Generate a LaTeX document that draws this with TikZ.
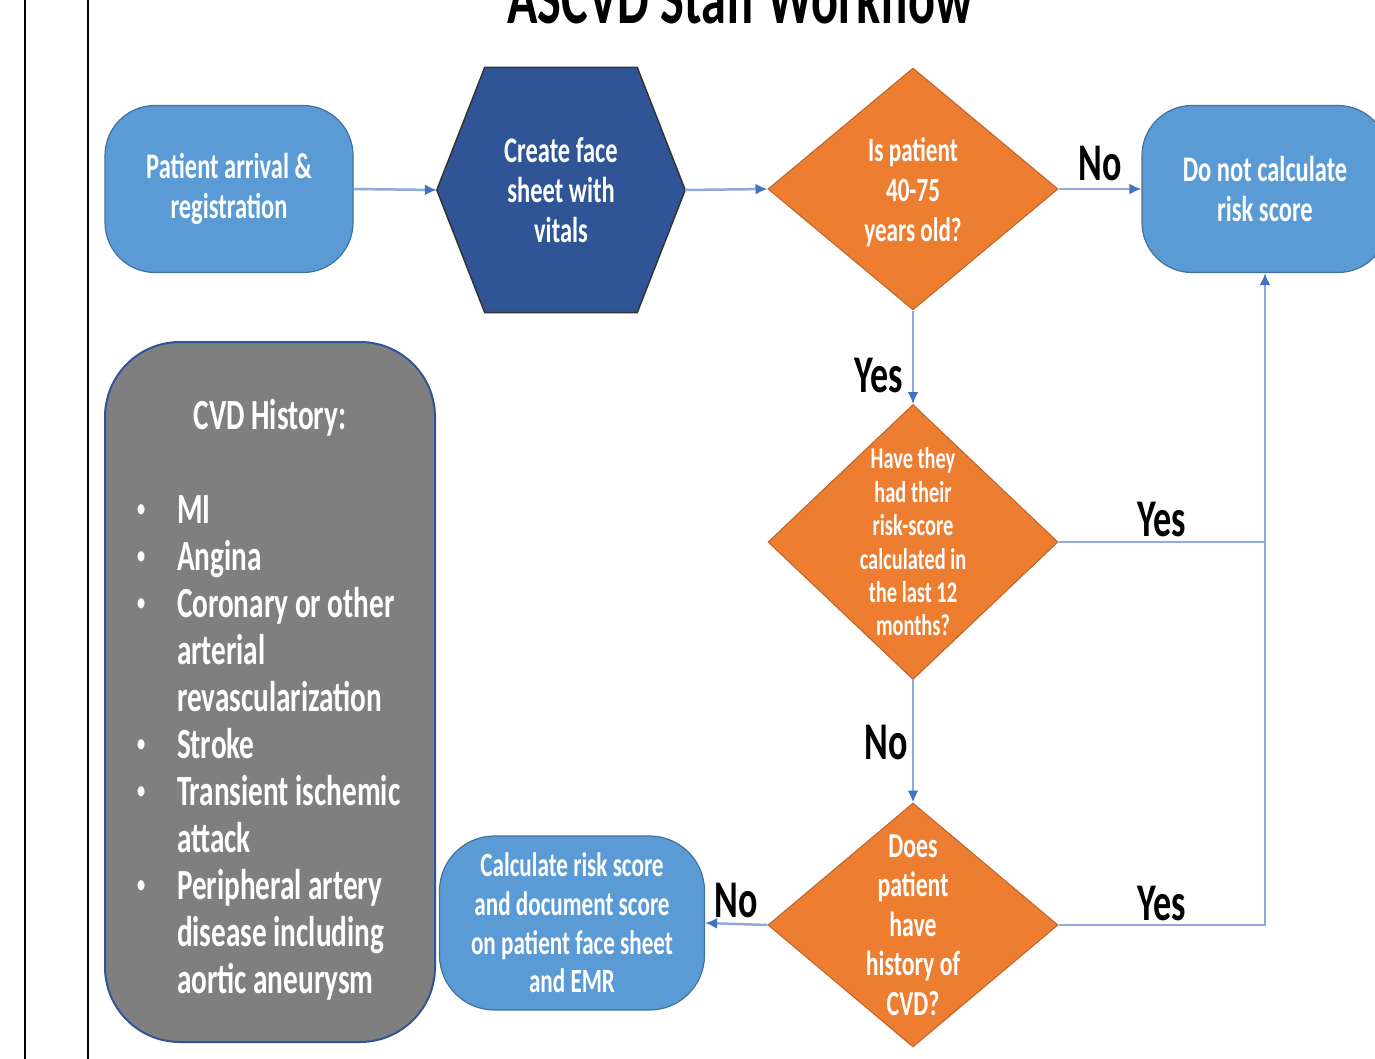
\documentclass[tikz,border=0pt]{standalone}
\usepackage{fontspec}
\setmainfont{Carlito}[FakeStretch=0.68]
\usetikzlibrary{arrows.meta, positioning, shapes, backgrounds}
\definecolor{StepBlue}{RGB}{91, 155, 213}
\definecolor{StepEdge}{RGB}{65, 113, 156}
\definecolor{FaceBlue}{RGB}{47, 85, 151}
\definecolor{AskOrange}{RGB}{237, 125, 49}
\definecolor{AskEdge}{RGB}{190, 100, 40}
\definecolor{HistGray}{RGB}{127, 127, 127}
\definecolor{LinkBlue}{RGB}{143, 170, 220}
\definecolor{TipBlue}{RGB}{68, 114, 196}
\newcommand{\histitem}[1]{\par\noindent\hangindent=45pt\hangafter=1\makebox[45pt][l]{\hspace{5pt}\raisebox{7pt}{\fontsize{24}{24}\selectfont\textbullet}}#1}

\begin{document}
\begin{tikzpicture}[x=1pt, y=-1pt,
    stepbox/.style={rectangle, rounded corners=50pt, fill=StepBlue, draw=StepEdge, line width=1.2pt, text=white, align=center, font=\bfseries\fontsize{36}{40}\selectfont, minimum width=248pt, minimum height=167pt, inner sep=0pt},
    facebox/.style={rectangle, text=white, align=center, font=\bfseries\fontsize{36}{40}\selectfont, minimum width=248pt, minimum height=245pt, inner sep=0pt},
    askbox/.style={diamond, fill=AskOrange, draw=AskEdge, line width=1pt, minimum width=290pt, minimum height=242pt, inner sep=0pt},
    asktext/.style={text=white, align=center, inner sep=0pt, font=\bfseries\fontsize{34}{40}\selectfont},
    histbox/.style={rectangle, rounded corners=75pt, fill=HistGray, draw=FaceBlue, line width=2pt, text=white, align=flush left, font=\bfseries\fontsize{43}{47}\selectfont, minimum width=330pt, minimum height=700pt, text width=276pt},
    link/.style={LinkBlue, line width=2.5pt},
    flow/.style={link, -{Latex[length=12pt, width=11pt, color=TipBlue]}},
    answer/.style={text=black, inner sep=0pt, font=\bfseries\fontsize{53}{58}\selectfont}]

    \useasboundingbox (0,0) rectangle (1375,1059);
    \clip (0,0) rectangle (1375,1059);

    % page rules and title
    \draw[line width=2pt] (25,0) -- (25,1059);
    \draw[line width=2pt] (88,0) -- (88,1059);
    \node[font=\bfseries\fontsize{74}{80}\selectfont, anchor=base] (title) at (740,24) {ASCVD Staff Workflow};

    % top row
    \node[stepbox] (arrive) at (229,189) {\rule{0pt}{8pt}Patient arrival \&\\registration};
    \node[facebox] (face) at (561,190) {Create face\\sheet with\\vitals};
    \node[askbox, label={[asktext, yshift=-3pt]center:{Is patient\\40-75\\years old?}}] (age) at (913,189) {};
    \node[stepbox, minimum width=246pt] (skip) at (1265,189) {\rule{0pt}{8pt}Do not calculate\\risk score};

    % questions down the middle
    \node[askbox, minimum height=275pt, label={[asktext, font=\bfseries\fontsize{30}{33.4}\selectfont]center:{Have they\\had their\\risk-score\\calculated in\\the last 12\\months?}}] (recent) at (913,542) {};
    \node[askbox, minimum height=244pt, label={[asktext, font=\bfseries\fontsize{35}{39.5}\selectfont]center:{Does\\patient\\have\\history of\\CVD?}}] (history) at (913,925) {};
    \node[stepbox, minimum width=265pt, minimum height=174pt, rounded corners=55pt, font=\bfseries\fontsize{34}{38.7}\selectfont] (calc) at (572,923) {Calculate risk score\\and document score\\on patient face sheet\\and EMR};

    % CVD history panel
    \node[histbox] (cvd) at (270,692) {{\centering\rule{0pt}{46pt}CVD History:\par}\vspace{47pt}
        \histitem{MI}
        \histitem{Angina}
        \histitem{Coronary or other\newline arterial\newline revascularization}
        \histitem{Stroke}
        \histitem{Transient ischemic\newline attack}
        \histitem{Peripheral artery\newline disease including\newline aortic aneurysm}\par};

    % hexagon behind the face sheet text
    \begin{scope}[on background layer]
        \fill[white] (0,0) rectangle (1375,1059);
        \draw[fill=FaceBlue, draw=black!80, line width=1.5pt] ([xshift=48pt]face.north west) -- ([xshift=-48pt]face.north east) -- (face.east) -- ([xshift=-48pt]face.south east) -- ([xshift=48pt]face.south west) -- (face.west) -- cycle;
    \end{scope}

    % connectors
    \draw[flow] (arrive.east) -- (face.west);
    \draw[flow] (face.east) -- (age.west);
    \draw[flow] (age.east) -- node[answer, above=7pt] {No} (skip.west);
    \draw[flow] (age.south) -- node[answer, left=9pt, pos=0.69] {Yes} (recent.north);
    \draw[flow] (recent.east) -- node[answer, above=4pt] {Yes} (recent.east -| skip.south) -- (skip.south);
    \draw[flow] (recent.south) -- node[answer, left=4pt, pos=0.51] {No} (history.north);
    \draw[link] (history.east) -- node[answer, above=3pt] {Yes} (history.east -| skip.south) -- (recent.east -| skip.south);
    \draw[flow] (history.west) -- node[answer, above=5pt] {No} (calc.east);
\end{tikzpicture}
\end{document}
